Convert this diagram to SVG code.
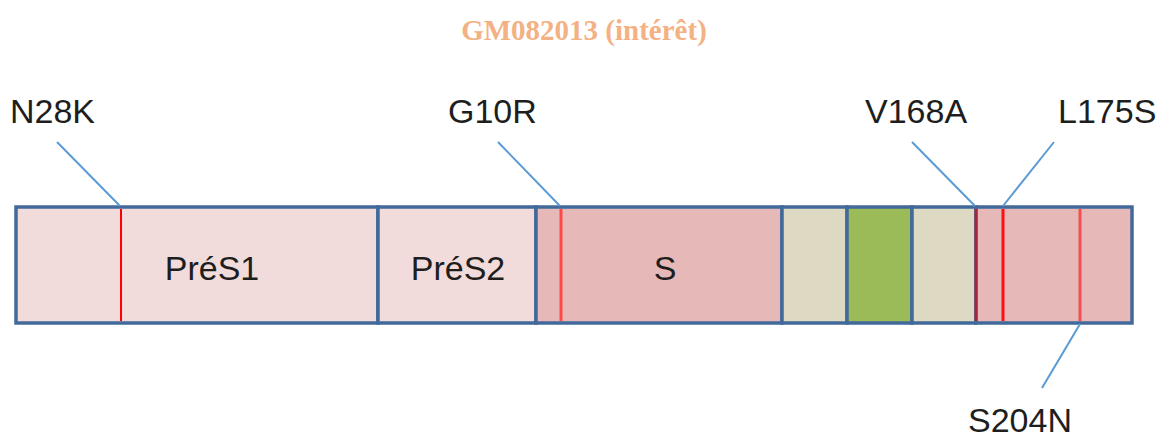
<svg xmlns="http://www.w3.org/2000/svg" width="1159" height="437" viewBox="0 0 1159 437">
<style>
.seg{stroke:#41699A;stroke-width:3.5}
.lbl{font-family:"Liberation Sans",Arial,sans-serif;font-size:34px;fill:#1e1e1e}
.lead{stroke:#5B9BD5;stroke-width:2;fill:none}
.mut{stroke-width:3}
</style>
<rect width="1159" height="437" fill="#ffffff"/>
<text x="584" y="40" text-anchor="middle" font-family="'Liberation Serif','Times New Roman',serif" font-weight="bold" font-size="29" fill="#F4B183">GM082013 (intérêt)</text>
<g id="bar">
<g id="seg-pres1"><rect class="seg" x="16" y="207" width="362" height="116" fill="#F2DCDB"/><text class="lbl" x="212" y="280" text-anchor="middle">PréS1</text></g>
<g id="seg-pres2"><rect class="seg" x="378" y="207" width="158" height="116" fill="#F2DCDB"/><text class="lbl" x="458" y="280" text-anchor="middle">PréS2</text></g>
<g id="seg-s"><rect class="seg" x="536" y="207" width="246" height="116" fill="#E6B9B8"/><text class="lbl" x="665" y="280" text-anchor="middle">S</text></g>
<g id="seg-b1"><rect class="seg" x="782" y="207" width="65" height="116" fill="#DDD9C3"/></g>
<g id="seg-green"><rect class="seg" x="847" y="207" width="65" height="116" fill="#9BBB59"/></g>
<g id="seg-b2"><rect class="seg" x="912" y="207" width="64" height="116" fill="#DDD9C3"/></g>
<g id="seg-end"><rect class="seg" x="976" y="207" width="156" height="116" fill="#E6B9B8"/></g>
</g>
<g id="mutations">
<line x1="121" y1="209" x2="121" y2="321" stroke="#FF0000" stroke-width="2"/>
<line x1="561" y1="209" x2="561" y2="321" stroke="#FF4747" class="mut"/>
<line x1="976" y1="209" x2="976" y2="321" stroke="#A3283D" class="mut"/>
<line x1="1003" y1="209" x2="1003" y2="321" stroke="#FF1010" class="mut"/>
<line x1="1080" y1="209" x2="1080" y2="321" stroke="#F25050" class="mut"/>
</g>
<g id="connectors">
<line class="lead" x1="57" y1="142" x2="120" y2="206"/>
<line class="lead" x1="498" y1="142" x2="560" y2="206"/>
<line class="lead" x1="912" y1="142" x2="975" y2="206"/>
<line class="lead" x1="1054" y1="142" x2="1003" y2="206"/>
<line class="lead" x1="1080" y1="324" x2="1042" y2="388"/>
</g>
<g id="labels">
<text class="lbl" x="10" y="123">N28K</text>
<text class="lbl" x="448" y="123">G10R</text>
<text class="lbl" x="865" y="123">V168A</text>
<text class="lbl" x="1058" y="123">L175S</text>
<text class="lbl" x="968" y="432">S204N</text>
</g>
</svg>
